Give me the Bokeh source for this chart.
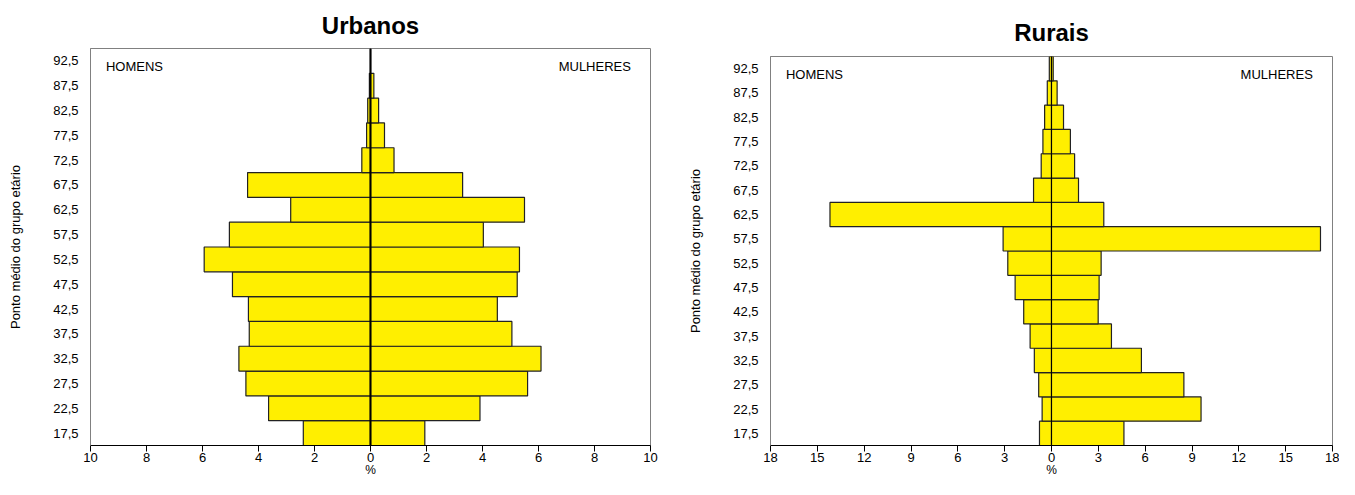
from bokeh.plotting import figure
from bokeh.layouts import row
from bokeh.models import FixedTicker, Span, Label, Range1d
from bokeh.embed import file_html
from bokeh.resources import INLINE

# ---- data ----
ages = [17.5, 22.5, 27.5, 32.5, 37.5, 42.5, 47.5, 52.5, 57.5, 62.5, 67.5, 72.5, 77.5, 82.5, 87.5, 92.5]
age_labels = ["17,5", "22,5", "27,5", "32,5", "37,5", "42,5", "47,5", "52,5", "57,5", "62,5",
              "67,5", "72,5", "77,5", "82,5", "87,5", "92,5"]

urb_men = [2.40, 3.64, 4.45, 4.70, 4.33, 4.36, 4.93, 5.94, 5.04, 2.85, 4.39, 0.31, 0.14, 0.10, 0.04, 0.0]
urb_women = [1.94, 3.91, 5.61, 6.09, 5.05, 4.53, 5.24, 5.32, 4.03, 5.50, 3.29, 0.84, 0.50, 0.29, 0.12, 0.0]

rur_men = [0.77, 0.60, 0.82, 1.10, 1.37, 1.78, 2.33, 2.80, 3.10, 14.19, 1.15, 0.66, 0.55, 0.44, 0.27, 0.14]
rur_women = [4.64, 9.58, 8.48, 5.76, 3.84, 2.99, 3.05, 3.18, 17.23, 3.35, 1.73, 1.48, 1.21, 0.77, 0.36, 0.11]

FONT = "Liberation Sans"
YELLOW = "#FFEF00"
GRAY = "#808080"


def make(title, men, women, xmax, xstep, width, height, bl, br, bt, bb, zero_w, title_standoff):
    p = figure(width=width, height=height,
               x_range=Range1d(-xmax, xmax), y_range=Range1d(15, 95),
               output_backend="svg", toolbar_location=None,
               min_border_left=bl, min_border_right=br,
               min_border_top=bt, min_border_bottom=bb)
    p.frame_align = False
    p.title.text = title
    p.title.align = "center"
    p.title.text_font = FONT
    p.title.text_font_size = "24px"
    p.title.text_font_style = "bold"
    p.title.text_color = "black"
    p.title.standoff = title_standoff

    p.xgrid.visible = False
    p.ygrid.visible = False
    p.outline_line_color = GRAY
    p.outline_line_width = 1
    p.background_fill_color = "white"
    p.border_fill_color = "white"

    neg_men = [-m for m in men]
    zeros = [0] * len(ages)
    p.hbar(y=ages, left=neg_men, right=zeros, height=5,
           fill_color=YELLOW, line_color="#222222", line_width=1.2)
    p.hbar(y=ages, left=zeros, right=women, height=5,
           fill_color=YELLOW, line_color="#222222", line_width=1.2)

    p.add_layout(Span(location=0, dimension="height", line_color="black", line_width=zero_w))

    xt = list(range(-xmax, xmax + 1, xstep))
    xa = p.xaxis[0]
    xa.ticker = FixedTicker(ticks=xt)
    xa.major_label_overrides = {t: str(abs(t)) for t in xt}
    xa.axis_line_color = "black"
    xa.major_tick_line_color = "black"
    xa.major_tick_out = 6
    xa.major_tick_in = 0
    xa.minor_tick_line_color = None
    xa.major_label_standoff = 1
    xa.major_label_text_font = FONT
    xa.major_label_text_font_size = "13px"
    xa.major_label_text_color = "black"
    xa.axis_label = "%"
    xa.axis_label_text_font = FONT
    xa.axis_label_text_font_size = "12px"
    xa.axis_label_text_font_style = "normal"
    xa.axis_label_text_color = "black"
    xa.axis_label_standoff = -2

    ya = p.yaxis[0]
    ya.ticker = FixedTicker(ticks=ages)
    ya.major_label_overrides = {a: l for a, l in zip(ages, age_labels)}
    ya.axis_line_color = GRAY
    ya.major_tick_line_color = None
    ya.major_tick_out = 0
    ya.major_tick_in = 0
    ya.minor_tick_line_color = None
    ya.major_label_standoff = 12
    ya.major_label_text_font = FONT
    ya.major_label_text_font_size = "13px"
    ya.major_label_text_color = "black"
    ya.axis_label = "Ponto médio do grupo etário"
    ya.axis_label_text_font = FONT
    ya.axis_label_text_font_size = "13px"
    ya.axis_label_text_font_style = "normal"
    ya.axis_label_text_color = "black"
    ya.axis_label_standoff = 27

    p.add_layout(Label(x=-xmax * 0.945, y=91.4, text="HOMENS", text_align="left",
                       text_baseline="middle", text_font=FONT, text_font_size="13px",
                       text_color="black"))
    p.add_layout(Label(x=xmax * 0.93, y=91.4, text="MULHERES", text_align="right",
                       text_baseline="middle", text_font=FONT, text_font_size="13px",
                       text_color="black"))
    return p


p1 = make("Urbanos", urb_men, urb_women, 10, 2, 675, 479, 90, 25, 48, 33, 2, 19)
p2 = make("Rurais", rur_men, rur_women, 18, 3, 664, 479, 95, 7, 56, 33, 1, 21)

layout = row(p1, p2)
open("out.html", "w").write(file_html(layout, INLINE))
